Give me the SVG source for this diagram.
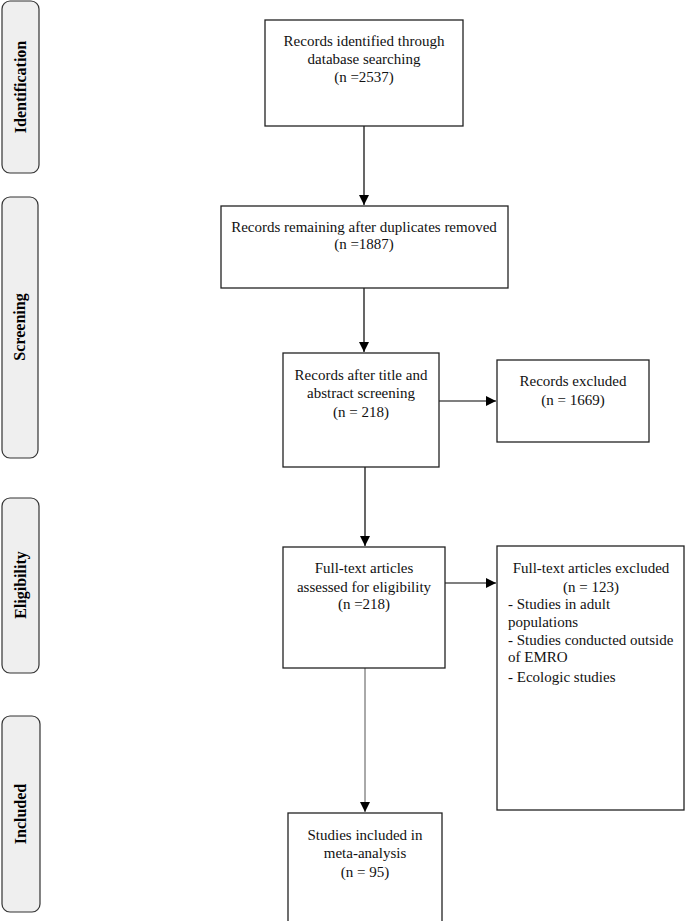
<svg xmlns="http://www.w3.org/2000/svg" width="685" height="921" viewBox="0 0 685 921">
<defs>
<marker id="ah" viewBox="0 0 10 10" refX="10" refY="5" markerWidth="10" markerHeight="10" markerUnits="userSpaceOnUse" orient="auto">
<path d="M0,0 L10,5 L0,10 z" fill="#000"/>
</marker>
<style>
.tab{fill:#efefef;stroke:#333;stroke-width:1.2}
.tabt{font-family:"Liberation Serif",serif;font-weight:bold;font-size:16px;fill:#000;text-anchor:middle}
.box{fill:#fff;stroke:#222;stroke-width:1.3}
.t{font-family:"Liberation Serif",serif;font-size:15px;fill:#111;text-anchor:middle}
.tl{font-family:"Liberation Serif",serif;font-size:15px;fill:#111}
.c{stroke:#000;stroke-width:1.2;fill:none;marker-end:url(#ah)}
.cg{stroke:#555;stroke-width:1;fill:none;marker-end:url(#ah)}
</style>
</defs>
<rect width="685" height="921" fill="#fff"/>
<g id="tab-identification"><rect class="tab" x="2" y="1" width="37" height="172" rx="8"/><text class="tabt" transform="translate(26,87) rotate(-90)">Identification</text></g>
<g id="tab-screening"><rect class="tab" x="2" y="197" width="36" height="261" rx="8"/><text class="tabt" transform="translate(25,327) rotate(-90)">Screening</text></g>
<g id="tab-eligibility"><rect class="tab" x="2" y="498" width="37" height="175" rx="8"/><text class="tabt" transform="translate(26,585) rotate(-90)">Eligibility</text></g>
<g id="tab-included"><rect class="tab" x="2" y="716" width="38" height="196" rx="8"/><text class="tabt" transform="translate(26,814) rotate(-90)">Included</text></g>
<g id="connectors">
<line class="c" x1="364" y1="126" x2="364" y2="205"/>
<line class="c" x1="364" y1="288" x2="364" y2="352"/>
<line class="c" x1="439" y1="401" x2="496" y2="401"/>
<line class="c" x1="365" y1="467" x2="365" y2="546"/>
<line class="c" x1="445" y1="583" x2="496" y2="583"/>
<line class="cg" x1="365" y1="668" x2="365" y2="812"/>
</g>
<g id="n1"><rect class="box" x="265" y="20" width="198" height="106"/>
<text class="t" x="364" y="46">Records identified through</text>
<text class="t" x="364" y="64">database searching</text>
<text class="t" x="364" y="82">(n =2537)</text></g>
<g id="n2"><rect class="box" x="221" y="206" width="287" height="82"/>
<text class="t" x="364" y="232">Records remaining after duplicates removed</text>
<text class="t" x="364" y="249">(n =1887)</text></g>
<g id="n3"><rect class="box" x="283" y="353" width="156" height="114"/>
<text class="t" x="361" y="380">Records after title and</text>
<text class="t" x="361" y="398">abstract screening</text>
<text class="t" x="361" y="417">(n = 218)</text></g>
<g id="n4"><rect class="box" x="497" y="360" width="152" height="82"/>
<text class="t" x="573" y="386">Records excluded</text>
<text class="t" x="573" y="405">(n = 1669)</text></g>
<g id="n5"><rect class="box" x="283" y="547" width="162" height="121"/>
<text class="t" x="364" y="573">Full-text articles</text>
<text class="t" x="364" y="592">assessed for eligibility</text>
<text class="t" x="364" y="609">(n =218)</text></g>
<g id="n6"><rect class="box" x="497" y="546" width="187" height="264"/>
<text class="t" x="591" y="573">Full-text articles excluded</text>
<text class="t" x="591" y="592">(n = 123)</text>
<text class="tl" x="508" y="609">- Studies in adult</text>
<text class="tl" x="508" y="627">populations</text>
<text class="tl" x="508" y="645">- Studies conducted outside</text>
<text class="tl" x="508" y="662">of EMRO</text>
<text class="tl" x="508" y="682">- Ecologic studies</text></g>
<g id="n7"><rect class="box" x="288" y="813" width="154" height="120"/>
<text class="t" x="365" y="840">Studies included in</text>
<text class="t" x="365" y="858">meta-analysis</text>
<text class="t" x="365" y="877">(n = 95)</text></g>
</svg>
